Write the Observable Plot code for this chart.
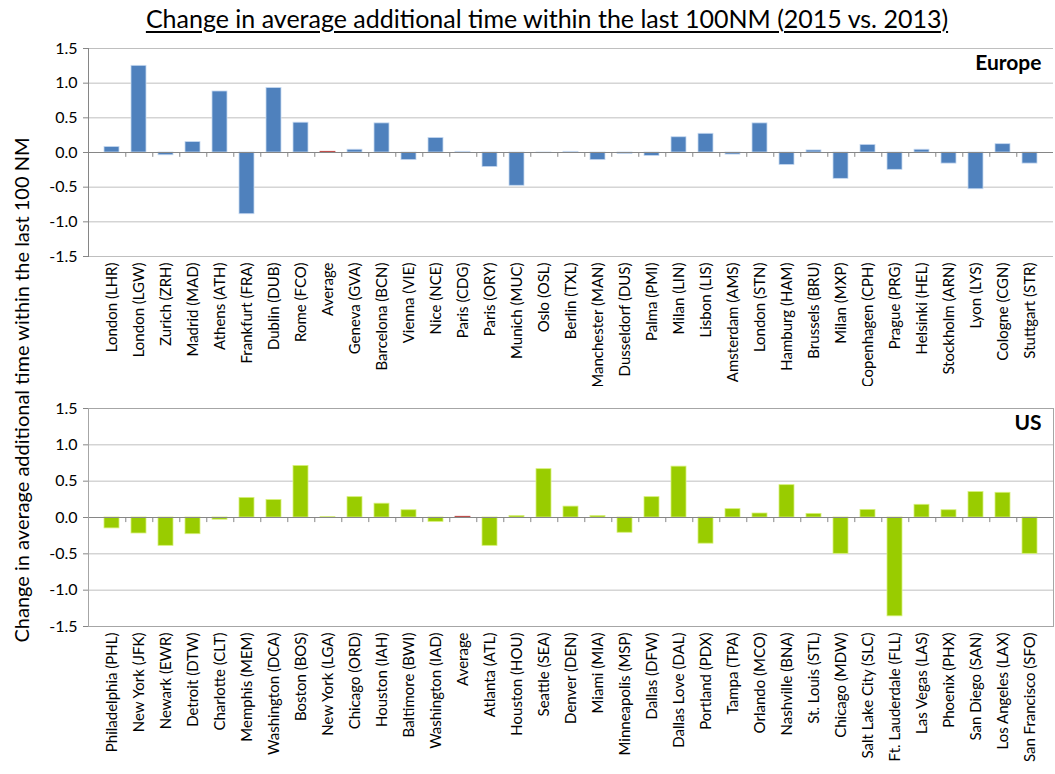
<!DOCTYPE html>
<html><head><meta charset="utf-8">
<script src="https://cdn.jsdelivr.net/npm/d3@7"></script>
<script src="https://cdn.jsdelivr.net/npm/@observablehq/plot@0.6"></script>
<style>
body{margin:0;background:#fff;font-family:Lato,"Open Sans",sans-serif;}
#wrap{position:relative;width:1055px;height:774px;overflow:hidden;}
#title{position:absolute;top:3px;left:0;width:1094px;text-align:center;font-size:25px;text-decoration:underline;text-underline-offset:3px;color:#000;}
#ylab{position:absolute;left:21px;top:390px;transform:translate(-50%,-50%) rotate(-90deg);white-space:nowrap;font-size:20px;color:#000;}
#eu{position:absolute;left:0;top:35px;}
#us{position:absolute;left:0;top:386px;}
</style></head>
<body>
<div id="wrap">
  <div id="title">Change in average additional time within the last 100NM (2015 vs. 2013)</div>
  <div id="eu"></div>
  <div id="us"></div>
  <div id="ylab">Change in average additional time within the last 100 NM</div>
</div>
<script>
const euCities = ["London (LHR)","London (LGW)","Zurich (ZRH)","Madrid (MAD)","Athens (ATH)","Frankfurt (FRA)","Dublin (DUB)","Rome (FCO)","Average","Geneva (GVA)","Barcelona (BCN)","Vienna (VIE)","Nice (NCE)","Paris (CDG)","Paris (ORY)","Munich (MUC)","Oslo (OSL)","Berlin (TXL)","Manchester (MAN)","Dusseldorf (DUS)","Palma (PMI)","Milan (LIN)","Lisbon (LIS)","Amsterdam (AMS)","London (STN)","Hamburg (HAM)","Brussels (BRU)","Milan (MXP)","Copenhagen (CPH)","Prague (PRG)","Helsinki (HEL)","Stockholm (ARN)","Lyon (LYS)","Cologne (CGN)","Stuttgart (STR)"];
const euValues = [0.08,1.25,-0.04,0.15,0.88,-0.89,0.93,0.43,0.01,0.04,0.42,-0.11,0.21,0.01,-0.21,-0.48,-0.01,0.01,-0.11,-0.02,-0.05,0.22,0.27,-0.03,0.42,-0.18,0.03,-0.38,0.11,-0.25,0.04,-0.16,-0.53,0.12,-0.16];
const usCities = ["Philadelphia (PHL)","New York (JFK)","Newark (EWR)","Detroit (DTW)","Charlotte (CLT)","Memphis (MEM)","Washington (DCA)","Boston (BOS)","New York (LGA)","Chicago (ORD)","Houston (IAH)","Baltimore (BWI)","Washington (IAD)","Average","Atlanta (ATL)","Houston (HOU)","Seattle (SEA)","Denver (DEN)","Miami (MIA)","Minneapolis (MSP)","Dallas (DFW)","Dallas Love (DAL)","Portland (PDX)","Tampa (TPA)","Orlando (MCO)","Nashville (BNA)","St. Louis (STL)","Chicago (MDW)","Salt Lake City (SLC)","Ft. Lauderdale (FLL)","Las Vegas (LAS)","Phoenix (PHX)","San Diego (SAN)","Los Angeles (LAX)","San Francisco (SFO)"];
const usValues = [-0.15,-0.22,-0.39,-0.23,-0.03,0.27,0.24,0.71,0.005,0.28,0.19,0.10,-0.06,0.01,-0.39,0.02,0.665,0.15,0.02,-0.21,0.28,0.70,-0.36,0.115,0.055,0.445,0.05,-0.50,0.105,-1.36,0.175,0.10,0.35,0.34,-0.50];
const yTicks = [-1.5,-1.0,-0.5,0.0,0.5,1.0,1.5];

function panel({cities, values, color, edge, label, marginTop, height, marginBottom, boxed}) {
  const data = cities.map((c, i) => ({city: c, value: values[i]}));
  const W = 1055, ML = 88, MR = 2;
  const step = (W - ML - MR) / cities.length;
  return Plot.plot({
    width: W, height, marginLeft: ML, marginRight: MR, marginTop, marginBottom,
    style: {fontFamily: "Lato, 'Open Sans', sans-serif", fontSize: "15px", color: "#000", background: "#fff", overflow: "visible"},
    x: {domain: cities, padding: 0.44, label: null},
    y: {domain: [-1.5, 1.5], label: null},
    marks: [
      Plot.gridY(yTicks, {stroke: "#bfbfbf", strokeOpacity: 1}),
      Plot.barY(data, {x: "city", y: "value",
        fill: d => d.city === "Average" ? "#c0504d" : color,
        stroke: d => d.city === "Average" ? "#c0504d" : edge, strokeWidth: 0.8}),
      Plot.ruleY([0], {stroke: "#868686"}),
      Plot.ruleX(cities.slice(0, -1), {x: d => d, y1: 0, y2: -0.07, dx: step / 2, stroke: "#868686"}),
      Plot.axisY(yTicks, {tickSize: 5, tickPadding: 6, stroke: "#868686", tickFormat: d => d.toFixed(1), fontSize: 16, label: null}),
      Plot.axisX({tickRotate: -90, tickSize: 0, tickPadding: 6, anchor: "bottom", label: null, fontSize: 15}),
      Plot.frame({anchor: "left", stroke: "#868686"}),
      boxed ? Plot.frame({stroke: "#a6a6a6"}) : null,
      Plot.text([label], {frameAnchor: "top-right", dx: -12, dy: 7, fontWeight: "bold", fontSize: 21, fill: "#000"})
    ]
  });
}

document.getElementById("eu").append(panel({cities: euCities, values: euValues, color: "#4f81bd", edge: "#c6d9f1", label: "Europe", marginTop: 13, height: 351, marginBottom: 130, boxed: false}));
document.getElementById("us").append(panel({cities: usCities, values: usValues, color: "#99cc00", edge: "#d7f07a", label: "US", marginTop: 22, height: 388, marginBottom: 148, boxed: true}));
</script>
</body></html>
